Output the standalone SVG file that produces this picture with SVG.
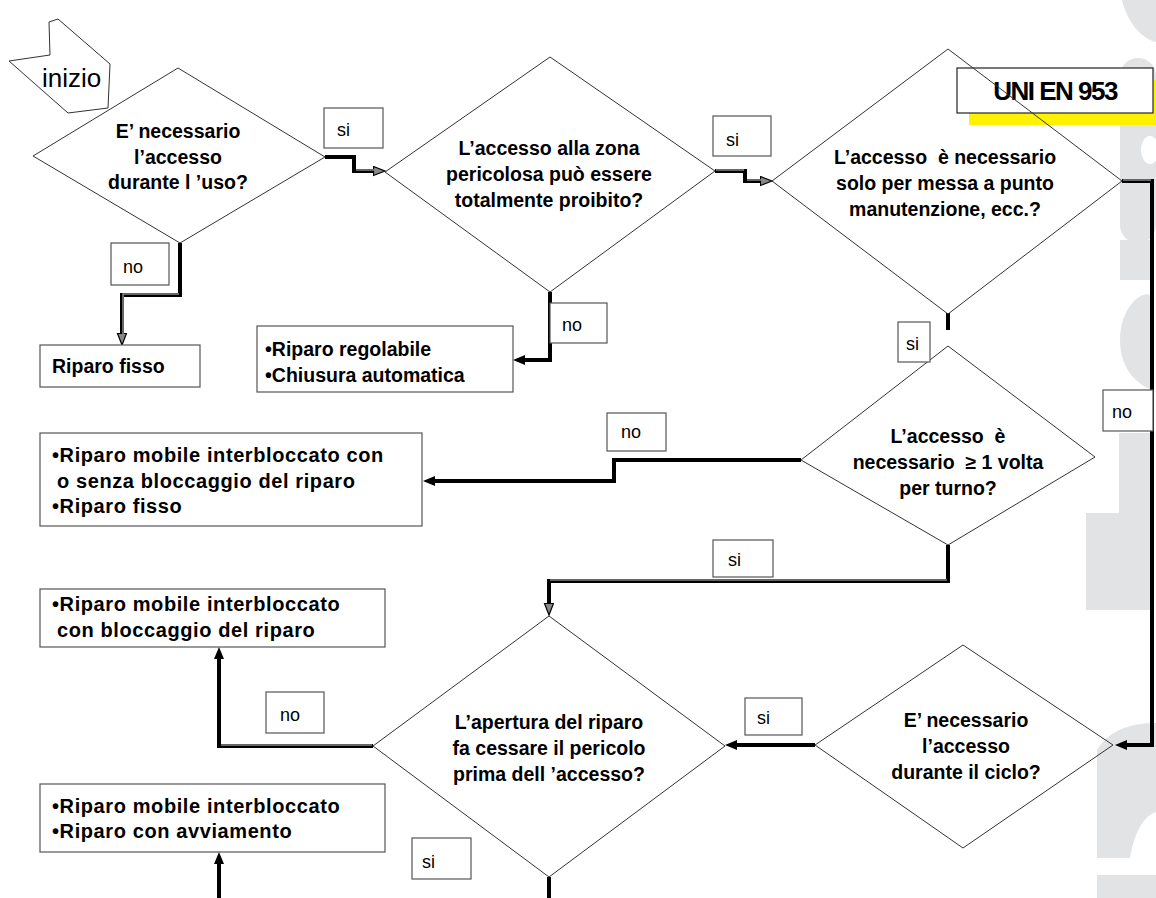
<svg xmlns="http://www.w3.org/2000/svg" width="1156" height="898" viewBox="0 0 1156 898">
<style>
.bg{fill:#ffffff}
.wm{fill:#e2e3e5}
.dia{fill:none;stroke:#333;stroke-width:1}
.box{fill:#fff;stroke:#555;stroke-width:1.2}
.t{font-family:"Liberation Sans",Arial,sans-serif;font-size:19.5px;font-weight:bold;fill:#000}
.tb{font-family:"Liberation Sans",Arial,sans-serif;font-size:20px;font-weight:bold;fill:#000;letter-spacing:0.6px}
.tc{text-anchor:middle}
.lb{font-family:"Liberation Sans",Arial,sans-serif;font-size:18px;fill:#000}
.c{fill:none;stroke:#000;stroke-width:4;stroke-linejoin:miter}
.hl{fill:none;stroke:#888;stroke-width:1.5}
</style>
<defs>
<marker id="arr" markerUnits="userSpaceOnUse" markerWidth="14" markerHeight="12" refX="4" refY="5" orient="auto">
<path d="M0,0 L12,5 L0,10 Z" fill="#000"/>
</marker>
<marker id="arrh" markerUnits="userSpaceOnUse" markerWidth="14" markerHeight="12" refX="4" refY="5" orient="auto">
<path d="M0.5,0.5 L12,5 L0.5,9.5 Z" fill="#888" stroke="#000" stroke-width="1.2"/>
</marker>
</defs>
<rect class="bg" x="0" y="0" width="1156" height="898"/>
<g id="watermark">
<path class="wm" d="M1122,0 H1156 V42 C1145,40 1128,26 1122,0 Z"/>
<rect class="wm" x="1120" y="58" width="36" height="185" rx="18"/>
<ellipse cx="1150" cy="150" rx="9" ry="14" fill="#fff"/>
<rect class="wm" x="1120" y="240" width="32" height="40"/>
<path class="wm" d="M1120,340 C1120,300 1152,285 1152,300 V390 C1152,390 1120,380 1120,340 Z"/>
<rect class="wm" x="1119" y="433" width="33" height="80"/>
<rect class="wm" x="1086" y="513" width="66" height="97"/>
<path class="wm" d="M1097,898 V750 C1110,728 1135,723 1156,723 V898 Z"/>
<path d="M1097,875 V858 H1130 C1135,830 1145,815 1156,812 V875 Z" fill="#fff"/>
</g>
<g id="connectors">
<path class="c" d="M325,157 H354 V171 H377" marker-end="url(#arrh)"/>
<path class="hl" d="M356,170 H377"/>
<path class="c" d="M715,171 H745 V181 H764" marker-end="url(#arrh)"/>
<path class="hl" d="M716,170 H744 M747,180 H764"/>
<path class="c" d="M1122,181 H1152 V745 H1123" marker-end="url(#arr)"/>
<path class="hl" d="M1123,180 H1151"/>
<path class="c" d="M948,313 V330"/>
<path class="c" d="M801,460 H614 V481 H431" marker-end="url(#arr)"/>
<path class="c" d="M948,545 V581 H549 V607" marker-end="url(#arrh)"/>
<path class="hl" d="M947,580 H550"/>
<path class="c" d="M815,745 H733" marker-end="url(#arr)"/>
<path class="c" d="M373,746 H219 V655" marker-end="url(#arr)"/>
<path class="hl" d="M372,745 H221"/>
<path class="c" d="M549,877 V898"/>
<path class="c" d="M219,898 V860" marker-end="url(#arr)"/>
<path class="c" d="M180,243 V295 H122 V337" marker-end="url(#arrh)"/>
<path class="hl" d="M179,294 H123 V336"/>
<path class="c" d="M550,292 V360 H521" marker-end="url(#arr)"/>
</g>
<g id="inizio">
<path class="dia" d="M9,61 L50,55 L49,22 L58,19 L110,64 L108,108 L68,113 Z" fill="#fff"/>
<text class="lb" x="42" y="87" style="font-size:26px">inizio</text>
</g>
<g id="uni">
<rect x="969" y="80" width="187" height="45" fill="#fff200"/>
<rect class="box" x="957" y="68" width="196" height="45" style="stroke:#222"/>
<text class="t tc" x="1055" y="100" style="font-size:26px;letter-spacing:-1.5px">UNI EN 953</text>
</g>
<g id="d1">
<path class="dia" d="M178,68 L325,157 L180,243 L33,156 Z"/>
<text class="t tc" x="178" y="138">E’ necessario</text>
<text class="t tc" x="178" y="164">l’accesso</text>
<text class="t tc" x="178" y="189">durante l ’uso?</text>
</g>
<g id="d2">
<path class="dia" d="M550,57 L715,171 L550,292 L385,172 Z"/>
<text class="t tc" x="549" y="155">L’accesso alla zona</text>
<text class="t tc" x="549" y="181">pericolosa può essere</text>
<text class="t tc" x="549" y="207">totalmente proibito?</text>
</g>
<g id="d3">
<path class="dia" d="M948,49 L1122,181 L948,314 L772,181 Z"/>
<text class="t tc" x="945" y="164">L’accesso&#160; è necessario</text>
<text class="t tc" x="945" y="190">solo per messa a punto</text>
<text class="t tc" x="945" y="216">manutenzione, ecc.?</text>
</g>
<g id="d4">
<path class="dia" d="M948,346 L1095,457 L948,545 L801,460 Z"/>
<text class="t tc" x="948" y="443">L’accesso&#160; è</text>
<text class="t tc" x="948" y="469">necessario&#160; ≥ 1 volta</text>
<text class="t tc" x="948" y="495">per turno?</text>
</g>
<g id="d5">
<path class="dia" d="M549,616 L725,746 L549,877 L373,746 Z"/>
<text class="t tc" x="549" y="729">L’apertura del riparo</text>
<text class="t tc" x="549" y="755">fa cessare il pericolo</text>
<text class="t tc" x="549" y="781">prima dell ’accesso?</text>
</g>
<g id="d6">
<path class="dia" d="M963,645 L1113,745 L963,848 L815,745 Z"/>
<text class="t tc" x="966" y="727">E’ necessario</text>
<text class="t tc" x="966" y="753">l’accesso</text>
<text class="t tc" x="966" y="779">durante il ciclo?</text>
</g>
<g id="b1">
<rect class="box" x="40" y="345" width="160" height="42"/>
<text class="t" x="52" y="373">Riparo fisso</text>
</g>
<g id="b2">
<rect class="box" x="257" y="326" width="256" height="66"/>
<text class="t" x="265" y="356">•Riparo regolabile</text>
<text class="t" x="265" y="382">•Chiusura automatica</text>
</g>
<g id="b3">
<rect class="box" x="40" y="433" width="382" height="93"/>
<text class="tb" x="52" y="462">•Riparo mobile interbloccato con</text>
<text class="tb" x="57" y="488">o senza bloccaggio del riparo</text>
<text class="tb" x="52" y="513">•Riparo fisso</text>
</g>
<g id="b4">
<rect class="box" x="40" y="589" width="345" height="58"/>
<text class="tb" x="52" y="611">•Riparo mobile interbloccato</text>
<text class="tb" x="57" y="637">con bloccaggio del riparo</text>
</g>
<g id="b5">
<rect class="box" x="40" y="784" width="345" height="68"/>
<text class="tb" x="52" y="813">•Riparo mobile interbloccato</text>
<text class="tb" x="52" y="838">•Riparo con avviamento</text>
</g>
<g id="labels">
<g id="l-si1"><rect class="box" x="324" y="108" width="59" height="40"/><text class="lb" x="337" y="136">si</text></g>
<g id="l-si2"><rect class="box" x="713" y="116" width="58" height="40"/><text class="lb" x="726" y="146">si</text></g>
<g id="l-no1"><rect class="box" x="111" y="243" width="58" height="42"/><text class="lb" x="123" y="273">no</text></g>
<g id="l-no2"><rect class="box" x="550" y="303" width="57" height="40"/><text class="lb" x="562" y="331">no</text></g>
<g id="l-si3"><rect class="box" x="898" y="322" width="32" height="40"/><text class="lb" x="906" y="350">si</text></g>
<g id="l-no4"><rect class="box" x="607" y="413" width="59" height="38"/><text class="lb" x="621" y="438">no</text></g>
<g id="l-no5"><rect class="box" x="1103" y="390" width="50" height="41"/><text class="lb" x="1112" y="418">no</text></g>
<g id="l-si5"><rect class="box" x="713" y="540" width="60" height="37"/><text class="lb" x="728" y="566">si</text></g>
<g id="l-si6"><rect class="box" x="745" y="698" width="57" height="37"/><text class="lb" x="757" y="724">si</text></g>
<g id="l-no7"><rect class="box" x="266" y="692" width="58" height="41"/><text class="lb" x="280" y="721">no</text></g>
<g id="l-si8"><rect class="box" x="412" y="838" width="59" height="41"/><text class="lb" x="422" y="868">si</text></g>
</g>
</svg>
